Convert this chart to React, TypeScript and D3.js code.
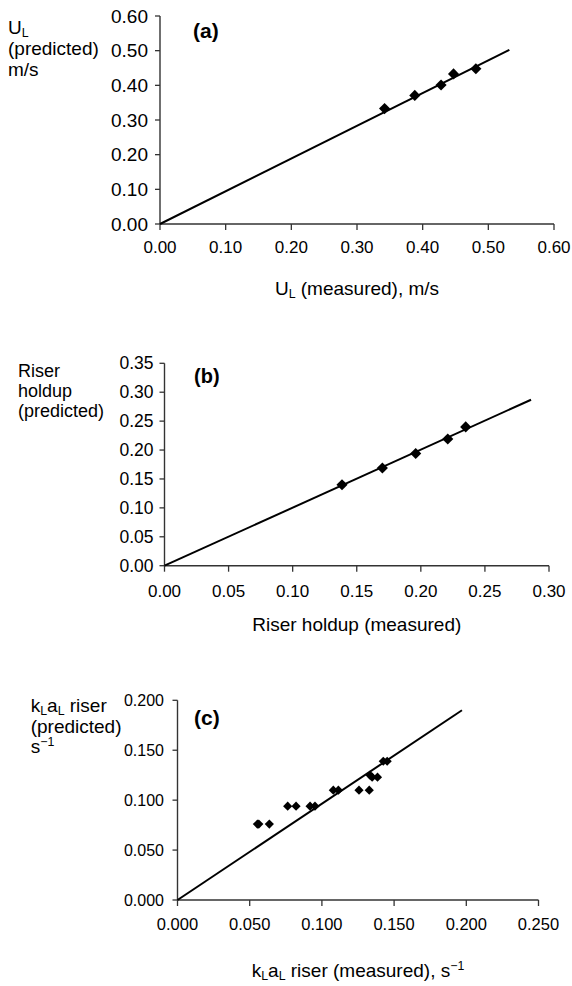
import React from 'react';
import * as d3 from 'd3';

// ------------------------------------------------------------
// data
// ------------------------------------------------------------
const ulMeasured = [0.342, 0.388, 0.428, 0.447, 0.481];
const ulPredicted = [0.333, 0.371, 0.401, 0.433, 0.448];
const ulFit = [[0, 0], [0.532, 0.502]];

const holdupMeasured = [0.1385, 0.170, 0.196, 0.221, 0.235];
const holdupPredicted = [0.140, 0.169, 0.194, 0.219, 0.240];
const holdupFit = [[0, 0], [0.286, 0.287]];

const klaMeasured = [0.0553, 0.0563, 0.0636, 0.0763, 0.0821, 0.0918, 0.0952, 0.1079, 0.1114,
  0.1257, 0.1328, 0.1333, 0.1348, 0.1385, 0.1425, 0.1452];
const klaPredicted = [0.076, 0.076, 0.076, 0.094, 0.094, 0.094, 0.094, 0.110, 0.110,
  0.110, 0.110, 0.125, 0.123, 0.123, 0.139, 0.139];
const klaFit = [[0, 0], [0.197, 0.190]];

const ticksA = [0, 0.1, 0.2, 0.3, 0.4, 0.5, 0.6];
const ticksBx = [0, 0.05, 0.1, 0.15, 0.2, 0.25, 0.3];
const ticksBy = [0, 0.05, 0.1, 0.15, 0.2, 0.25, 0.3, 0.35];
const ticksCx = [0, 0.05, 0.1, 0.15, 0.2, 0.25];
const ticksCy = [0, 0.05, 0.1, 0.15, 0.2];

const FONT = 'Liberation Sans, Arial, Helvetica, sans-serif';

type Seg = { t: string; sub?: boolean; sup?: boolean };

// renders a line of text with sub/superscript pieces
function Rich({ segs }: { segs: Seg[] }) {
  const out: React.ReactNode[] = [];
  let shift = 0;
  segs.forEach((s, i) => {
    const target = s.sub ? 3 : s.sup ? -7 : 0;
    const dy = target - shift;
    shift = target;
    out.push(
      <tspan key={i} dy={dy || undefined} fontSize={s.sub || s.sup ? '0.65em' : undefined}>
        {s.t}
      </tspan>
    );
  });
  return <>{out}</>;
}

function Panel(p: any) {
  const x = d3.scaleLinear().domain([0, p.xMax]).range([p.x0, p.x1]);
  const y = d3.scaleLinear().domain([0, p.yMax]).range([p.y0, p.y1]);
  const fmt = d3.format(p.fmt);
  const line = d3.line<number[]>().x(d => x(d[0])).y(d => y(d[1]));
  const diamond = d3.symbol(d3.symbolSquare, p.markSize)();
  const axisColor = '#333';

  return (
    <g fontFamily={FONT} fill="#000">
      {/* axes */}
      <line x1={p.x0} x2={p.x0} y1={y(p.yMax)} y2={p.y0} stroke={axisColor} strokeWidth={1.4} />
      <line x1={p.x0} x2={x(p.xMax)} y1={p.y0} y2={p.y0} stroke={axisColor} strokeWidth={1.4} />
      {p.yTicks.map((t: number) => (
        <g key={'y' + t}>
          <line x1={p.x0 - 5} x2={p.x0} y1={y(t)} y2={y(t)} stroke={axisColor} strokeWidth={1.3} />
          <text x={p.x0 - p.yGap} y={y(t)} dy="0.35em" textAnchor="end" fontSize={p.yFont}>
            {fmt(t)}
          </text>
        </g>
      ))}
      {p.xTicks.map((t: number) => (
        <g key={'x' + t}>
          <line x1={x(t)} x2={x(t)} y1={p.y0} y2={p.y0 + 6} stroke={axisColor} strokeWidth={1.3} />
          <text x={x(t)} y={p.y0 + p.xGap} textAnchor="middle" fontSize={p.xFont}>
            {fmt(t)}
          </text>
        </g>
      ))}

      {/* fit line and points */}
      <path d={line(p.fit) || ''} fill="none" stroke="#000" strokeWidth={2} />
      {p.measured.map((m: number, i: number) => (
        <path key={i} d={diamond || ''}
          transform={`translate(${x(m)},${y(p.predicted[i])}) rotate(45)`} fill="#000" />
      ))}

      {/* labels */}
      <text x={p.tagX} y={p.tagY} fontSize={p.tagFont} fontWeight="bold">{p.tag}</text>
      {p.yLabel.map((segs: Seg[], i: number) => (
        <text key={i} x={p.yLabelX} y={p.yLabelY[i]} fontSize={p.yLabelFont}>
          <Rich segs={segs} />
        </text>
      ))}
      <text x={(p.x0 + p.x1) / 2} y={p.titleY} textAnchor="middle" fontSize={19}>
        <Rich segs={p.xLabel} />
      </text>
    </g>
  );
}

export default function App() {
  return (
    <svg width={572} height={986} style={{ position: 'absolute', left: 0, top: 0, background: '#fff' }}>
      <Panel
        x0={160} x1={554} y0={224} y1={16} xMax={0.6} yMax={0.6}
        xTicks={ticksA} yTicks={ticksA} fmt=".2f"
        yFont={19} xFont={17} yGap={12} xGap={29}
        measured={ulMeasured} predicted={ulPredicted} fit={ulFit} markSize={62}
        tag="(a)" tagX={193} tagY={38} tagFont={21}
        yLabelX={8} yLabelY={[34, 55, 76]} yLabelFont={19}
        yLabel={[[{ t: 'U' }, { t: 'L', sub: true }], [{ t: '(predicted)' }], [{ t: 'm/s' }]]}
        titleY={295}
        xLabel={[{ t: 'U' }, { t: 'L', sub: true }, { t: ' (measured), m/s' }]}
      />
      <Panel
        x0={164.5} x1={549} y0={565.7} y1={363.3} xMax={0.3} yMax={0.35}
        xTicks={ticksBx} yTicks={ticksBy} fmt=".2f"
        yFont={17.5} xFont={17} yGap={11} xGap={31}
        measured={holdupMeasured} predicted={holdupPredicted} fit={holdupFit} markSize={62}
        tag="(b)" tagX={194} tagY={383} tagFont={20}
        yLabelX={18} yLabelY={[377, 397, 417]} yLabelFont={18}
        yLabel={[[{ t: 'Riser' }], [{ t: 'holdup' }], [{ t: '(predicted)' }]]}
        titleY={631}
        xLabel={[{ t: 'Riser holdup (measured)' }]}
      />
      <Panel
        x0={177.5} x1={538.5} y0={900} y1={700.3} xMax={0.25} yMax={0.2}
        xTicks={ticksCx} yTicks={ticksCy} fmt=".3f"
        yFont={16} xFont={16.5} yGap={13.5} xGap={30}
        measured={klaMeasured} predicted={klaPredicted} fit={klaFit} markSize={42}
        tag="(c)" tagX={194} tagY={725} tagFont={21}
        yLabelX={30.7} yLabelY={[712, 733, 753]} yLabelFont={19}
        yLabel={[
          [{ t: 'k' }, { t: 'L', sub: true }, { t: 'a' }, { t: 'L', sub: true }, { t: ' riser' }],
          [{ t: '(predicted)' }],
          [{ t: 's' }, { t: '−1', sup: true }],
        ]}
        titleY={977}
        xLabel={[{ t: 'k' }, { t: 'L', sub: true }, { t: 'a' }, { t: 'L', sub: true },
          { t: ' riser (measured), s' }, { t: '−1', sup: true }]}
      />
    </svg>
  );
}
